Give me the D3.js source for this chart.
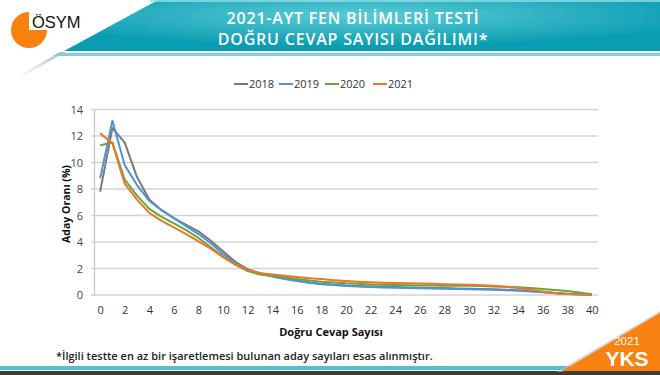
<!DOCTYPE html>
<html>
<head>
<meta charset="utf-8">
<script src="https://cdn.jsdelivr.net/npm/d3@7"></script>
<style>
  html, body { margin: 0; padding: 0; background: #fff; }
  svg { display: block; }
  text { font-family: "Open Sans", "DejaVu Sans", sans-serif; }
</style>
</head>
<body>
<svg id="chart" width="660" height="375"></svg>
<script>
// ---- data ----
const categories = d3.range(0, 41);
const seriesNames = ["2018", "2019", "2020", "2021"];
const values2018 = [7.8, 12.6, 11.5, 8.9, 7.2, 6.4, 5.8, 5.3, 4.8, 4.1, 3.3, 2.5, 1.95, 1.65, 1.45, 1.25, 1.1, 0.95, 0.85, 0.8, 0.72, 0.68, 0.65, 0.62, 0.6, 0.57, 0.55, 0.53, 0.52, 0.5, 0.48, 0.46, 0.43, 0.4, 0.35, 0.3, 0.23, 0.16, 0.1, 0.06, 0.03];
const values2019 = [8.8, 13.15, 9.8, 8.3, 7.1, 6.4, 5.8, 5.2, 4.6, 3.9, 3.1, 2.4, 1.9, 1.6, 1.4, 1.2, 1.05, 0.92, 0.82, 0.75, 0.68, 0.64, 0.6, 0.57, 0.55, 0.53, 0.51, 0.49, 0.47, 0.45, 0.43, 0.41, 0.39, 0.36, 0.32, 0.27, 0.2, 0.13, 0.07, 0.04, 0.02];
const values2020 = [11.3, 11.5, 8.7, 7.5, 6.5, 5.9, 5.4, 4.9, 4.3, 3.6, 2.9, 2.3, 1.8, 1.55, 1.45, 1.32, 1.2, 1.1, 1.0, 0.95, 0.88, 0.84, 0.8, 0.78, 0.76, 0.74, 0.72, 0.71, 0.7, 0.7, 0.69, 0.67, 0.65, 0.62, 0.58, 0.53, 0.46, 0.38, 0.3, 0.18, 0.05];
const values2021 = [12.2, 11.45, 8.4, 7.2, 6.2, 5.6, 5.1, 4.6, 4.05, 3.5, 2.85, 2.3, 1.9, 1.65, 1.55, 1.45, 1.35, 1.27, 1.2, 1.12, 1.05, 1.0, 0.96, 0.93, 0.9, 0.88, 0.86, 0.84, 0.82, 0.8, 0.78, 0.74, 0.7, 0.62, 0.52, 0.4, 0.27, 0.15, 0.07, 0.04, 0.03];
const yTicks = [0, 2, 4, 6, 8, 10, 12, 14];
const xTickLabels = d3.range(0, 41, 2);
const titleLines = ["2021-AYT FEN BİLİMLERİ TESTİ", "DOĞRU CEVAP SAYISI DAĞILIMI*"];
const xTitle = "Doğru Cevap Sayısı";
const yTitle = "Aday Oranı (%)";
const footnote = "*İlgili testte en az bir işaretlemesi bulunan aday sayıları esas alınmıştır.";

const colors = {"2018": "#7a7a7a", "2019": "#4f92d6", "2020": "#62a83b", "2021": "#f07424"};
const seriesData = {"2018": values2018, "2019": values2019, "2020": values2020, "2021": values2021};

const svg = d3.select("#chart");
const defs = svg.append("defs");

// ---- header decoration ----
const rg = defs.append("radialGradient").attr("id", "teal").attr("cx", "0.5").attr("cy", "0.3").attr("r", "0.6");
rg.append("stop").attr("offset", "0").attr("stop-color", "#5ccbd7");
rg.append("stop").attr("offset", "1").attr("stop-color", "#0a9db2");

const sh = defs.append("linearGradient").attr("id", "shadow").attr("x1", "0").attr("y1", "1").attr("x2", "1").attr("y2", "0");
sh.append("stop").attr("offset", "0").attr("stop-color", "#ffffff");
sh.append("stop").attr("offset", "1").attr("stop-color", "#9a9a9a");

svg.append("path").attr("d", "M18,76 L60,52 L66,52 L24,76 Z").attr("fill", "url(#shadow)").attr("opacity", 0.7);
svg.append("path").attr("d", "M158,0 L660,0 L660,51 L64,51 Z").attr("fill", "url(#teal)");
svg.append("rect").attr("x", 150).attr("y", 0).attr("width", 510).attr("height", 2).attr("fill", "#8fdce4").attr("opacity", 0.8);
svg.append("path").attr("d", "M58,53 L660,53 L660,56 L53,56 Z").attr("fill", "#7ccfdb");

// logo
const lc = [29, 30], lr = 18;
const arcGen = d3.arc().innerRadius(0).outerRadius(lr).startAngle(Math.PI / 2).endAngle(2 * Math.PI);
svg.append("path").attr("transform", `translate(${lc[0]},${lc[1]})`).attr("d", arcGen()).attr("fill", "#f7820f");
svg.append("text").attr("x", 32).attr("y", 28)
  .style("font-family", "Liberation Sans, Arial, sans-serif")
  .attr("font-size", 16.5).attr("fill", "#111").text("ÖSYM");

// title
svg.selectAll(".title").data(titleLines).join("text")
  .attr("x", 353).attr("y", (d, i) => 24 + i * 21)
  .attr("text-anchor", "middle").attr("fill", "#fff")
  .attr("font-size", 16).attr("font-weight", 600).attr("letter-spacing", 0.8)
  .style("font-family", "'Open Sans', sans-serif")
  .text(d => d);

// ---- chart ----
const plotLeft = 94, plotRight = 598, plotTop = 109.5, plotBottom = 295;
const x = d3.scalePoint().domain(categories).range([plotLeft, plotRight]).padding(0.5);
const y = d3.scaleLinear().domain([0, 14]).range([plotBottom, plotTop]);

// gridlines
svg.append("g").selectAll("line").data(yTicks).join("line")
  .attr("x1", plotLeft - 3).attr("x2", plotRight)
  .attr("y1", d => y(d)).attr("y2", d => y(d))
  .attr("stroke", "#d4d4d4").attr("stroke-width", 1.3);

// y axis
const yAxis = svg.append("g").attr("transform", `translate(${plotLeft},0)`)
  .call(d3.axisLeft(y).tickValues(yTicks).tickSize(0).tickPadding(11));
yAxis.select(".domain").attr("stroke", "#c6c6c6").attr("stroke-width", 1.3);
yAxis.selectAll("text").attr("font-size", 11).attr("fill", "#444").style("font-family", "'Open Sans', sans-serif");

// x axis labels
const xAxis = svg.append("g").attr("transform", `translate(0,${plotBottom})`)
  .call(d3.axisBottom(x).tickValues(xTickLabels).tickSize(0).tickPadding(11));
xAxis.select(".domain").remove();
xAxis.selectAll("text").attr("font-size", 11).attr("fill", "#333").style("font-family", "'Open Sans', sans-serif");

// axis titles
svg.append("text").attr("x", 331).attr("y", 336).attr("text-anchor", "middle")
  .attr("font-size", 11).attr("font-weight", 700).attr("fill", "#111").text(xTitle);
svg.append("text").attr("transform", "translate(70,204) rotate(-90)").attr("text-anchor", "middle")
  .attr("font-size", 10.5).attr("font-weight", 700).attr("fill", "#111").text(yTitle);

// lines
const line = d3.line().x((d, i) => x(categories[i])).y(d => y(d));
svg.append("g").selectAll("path").data(seriesNames).join("path")
  .attr("d", s => line(seriesData[s]))
  .attr("fill", "none").attr("stroke", s => colors[s]).attr("stroke-width", 2)
  .attr("stroke-linejoin", "round");

// legend
const legendX = [234, 279, 325, 373];
const lg = svg.append("g").selectAll("g").data(seriesNames).join("g")
  .attr("transform", (d, i) => `translate(${legendX[i]},84)`);
lg.append("line").attr("x1", 0).attr("x2", 14).attr("y1", 0).attr("y2", 0)
  .attr("stroke", d => colors[d]).attr("stroke-width", 2);
lg.append("text").attr("x", 15).attr("y", 4).attr("font-size", 11).attr("fill", "#333").text(d => d);

// ---- footer ----
svg.append("text").attr("x", 56).attr("y", 360).attr("font-size", 11).attr("font-weight", 600)
  .attr("fill", "#222").text(footnote);
svg.append("rect").attr("x", 0).attr("y", 366).attr("width", 660).attr("height", 4).attr("fill", "#4fc1d0");
svg.append("rect").attr("x", 0).attr("y", 371).attr("width", 660).attr("height", 4).attr("fill", "#3d3d3d");
svg.append("path").attr("d", "M556,372 L660,311 L660,314 L562,372 Z").attr("fill", "#bbb").attr("opacity", 0.6);
svg.append("path").attr("d", "M562,371 L660,313 L660,371 Z").attr("fill", "#f7820f");
svg.append("text").attr("x", 627).attr("y", 345).attr("text-anchor", "middle").attr("fill", "#fff")
  .attr("font-size", 11.5).style("font-family", "'Liberation Sans', Arial, sans-serif").text("2021");
svg.append("text").attr("x", 627).attr("y", 366).attr("text-anchor", "middle").attr("fill", "#fff")
  .attr("font-size", 21).attr("font-weight", 700).style("font-family", "'Liberation Sans', Arial, sans-serif").text("YKS");
</script>
</body>
</html>
